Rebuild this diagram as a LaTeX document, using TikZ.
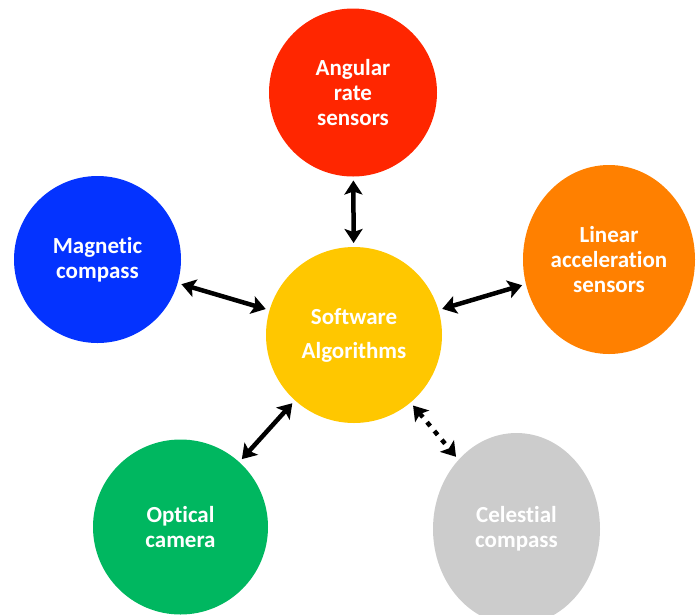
\documentclass[tikz,border=0pt]{standalone}
\usepackage{fontspec}
\setmainfont{Carlito}[Ligatures=NoCommon]
\usetikzlibrary{arrows.meta,shapes.geometric}

\begin{document}
\begin{tikzpicture}[x=1pt,y=-1pt,
    blob/.style={circle,minimum size=#1,inner sep=0pt,outer sep=0pt,text=white,
        font=\fontsize{23}{25}\selectfont\bfseries,align=center},
    oval/.style 2 args={ellipse,minimum width=#1,minimum height=#2,inner sep=0pt,outer sep=0pt,
        text=white,font=\fontsize{23}{25}\selectfont\bfseries,align=center},
    link/.style={line width=4.5pt,
        {Stealth[length=14pt,width=18pt,inset=3pt]}-{Stealth[length=14pt,width=18pt,inset=3pt]},
        shorten <=4pt,shorten >=4pt}]
   \definecolor{angcol}{RGB}{255,38,0}
   \definecolor{magcol}{RGB}{4,51,255}
   \definecolor{lincol}{RGB}{255,128,0}
   \definecolor{softcol}{RGB}{255,199,0}
   \definecolor{optcol}{RGB}{0,183,96}
   \definecolor{celcol}{RGB}{204,204,204}
   \useasboundingbox (0,0) rectangle (696,614);
   % the sensors round the software
   \node[blob=176, fill=softcol, font=\fontsize{23}{34}\selectfont\bfseries] (soft) at (354,335) {Software\\Algorithms};
   \node[blob=168, fill=angcol] (ang) at (353,92.5) {Angular\\rate\\sensors};
   \node[blob=167, fill=magcol] (mag) at (97.5,259.5) {Magnetic\\compass};
   \node[oval={172}{189}, fill=lincol] (lin) at (609,259.5) {Linear\\acceleration\\sensors};
   \node[blob=175, fill=optcol] (opt) at (180.5,527) {Optical\\camera};
   \node[oval={167}{192}, fill=celcol] (cel) at (516.5,529) {Celestial\\compass};
   % links
   \draw[link] (soft) -- (ang);
   \draw[link] (soft) -- (mag);
   \draw[link] (soft) -- (lin);
   \draw[link] (soft) -- (opt);
   \draw[link, dash pattern=on 5pt off 6.5pt] (soft) -- (cel);
\end{tikzpicture}
\end{document}
